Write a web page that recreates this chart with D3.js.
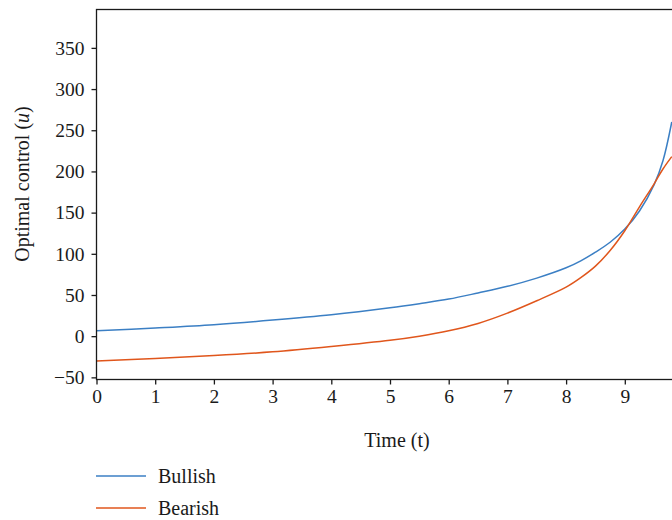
<!DOCTYPE html>
<html>
<head>
<meta charset="utf-8">
<script src="https://cdn.jsdelivr.net/npm/d3@7/dist/d3.min.js"></script>
<style>
  body { margin: 0; background: #fff; }
  svg { display: block; font-family: "Liberation Serif", "DejaVu Serif", serif; }
</style>
</head>
<body>
<div id="chart"></div>
<script>
// time values (t) and the two control curves
var time = [0, 1, 2, 3, 4, 5, 5.5, 6, 6.5, 7, 7.5, 8, 8.25, 8.5, 8.75, 9, 9.25, 9.5, 9.65, 9.8];
var bullish = [6.5, 10, 14, 19.5, 26, 34.5, 39.5, 45, 52.5, 60.5, 70.5, 83, 91.5, 102, 114, 130, 152, 184, 213, 260];
var bearish = [-30, -27, -23.5, -19, -12.5, -5, 0, 6.5, 15.5, 28, 43, 59.5, 71, 85, 104, 128, 157, 185, 203, 218];
var xTicks = [0, 1, 2, 3, 4, 5, 6, 7, 8, 9];
var yTicks = [-50, 0, 50, 100, 150, 200, 250, 300, 350];
var seriesNames = ["Bullish", "Bearish"];
var seriesColors = ["#3b7fc4", "#e0561c"];

var width = 672, height = 520;
var margin = { top: 9.5, left: 96.5, bottom: 140.5 };
var plotW = 600, plotH = height - margin.top - margin.bottom;
var fontSize = "19.5px";

var svg = d3.select("#chart").append("svg")
  .attr("width", width)
  .attr("height", height);

var x = d3.scaleLinear().domain([0, 600 / 58.7]).range([margin.left, margin.left + plotW]);
var y = d3.scaleLinear().domain([-52.6, 396.6]).range([height - margin.bottom, margin.top]);

// lines
var line = d3.line()
  .x(function(d) { return x(d.t); })
  .y(function(d) { return y(d.v); })
  .curve(d3.curveCatmullRom.alpha(0.5));

[bullish, bearish].forEach(function(vals, i) {
  var pts = time.map(function(t, j) { return { t: t, v: vals[j] }; });
  svg.append("path")
    .datum(pts)
    .attr("d", line)
    .attr("fill", "none")
    .attr("stroke", seriesColors[i])
    .attr("stroke-width", 1.5);
});

// frame
svg.append("rect")
  .attr("x", margin.left)
  .attr("y", margin.top)
  .attr("width", plotW)
  .attr("height", plotH)
  .attr("fill", "none")
  .attr("stroke", "#1a1a1a")
  .attr("stroke-width", 1.3);

// axes
var xAxis = svg.append("g")
  .attr("transform", "translate(0," + (height - margin.bottom) + ")")
  .call(d3.axisBottom(x).tickValues(xTicks).tickSize(5).tickSizeOuter(0).tickPadding(5).tickFormat(d3.format("d")));

var yAxis = svg.append("g")
  .attr("transform", "translate(" + margin.left + ",0)")
  .call(d3.axisLeft(y).tickValues(yTicks).tickSize(5).tickSizeOuter(0).tickPadding(7)
    .tickFormat(function(d) { return d < 0 ? "\u2212" + Math.abs(d) : d; }));

[xAxis, yAxis].forEach(function(g) {
  g.select(".domain").remove();
  g.selectAll(".tick line").attr("stroke", "#1a1a1a").attr("stroke-width", 1.3);
  g.selectAll(".tick text")
    .attr("fill", "#1a1a1a")
    .style("font-family", "'Liberation Serif', 'DejaVu Serif', serif")
    .style("font-size", fontSize);
});

// axis titles
svg.append("text")
  .attr("x", 397)
  .attr("y", 447)
  .attr("text-anchor", "middle")
  .attr("fill", "#1a1a1a")
  .style("font-size", "20px")
  .text("Time (t)");

var yTitle = svg.append("text")
  .attr("transform", "translate(29,184) rotate(-90)")
  .attr("text-anchor", "middle")
  .attr("fill", "#1a1a1a")
  .style("font-size", "20px");
yTitle.append("tspan").text("Optimal control (");
yTitle.append("tspan").style("font-style", "italic").text("u");
yTitle.append("tspan").text(")");

// legend
seriesNames.forEach(function(name, i) {
  var ly = 476 + i * 32;
  svg.append("line")
    .attr("x1", 96).attr("x2", 146)
    .attr("y1", ly).attr("y2", ly)
    .attr("stroke", seriesColors[i])
    .attr("stroke-width", 1.5);
  svg.append("text")
    .attr("x", 158)
    .attr("y", ly + 7)
    .attr("fill", "#1a1a1a")
    .style("font-size", "20px")
    .text(name);
});
</script>
</body>
</html>
